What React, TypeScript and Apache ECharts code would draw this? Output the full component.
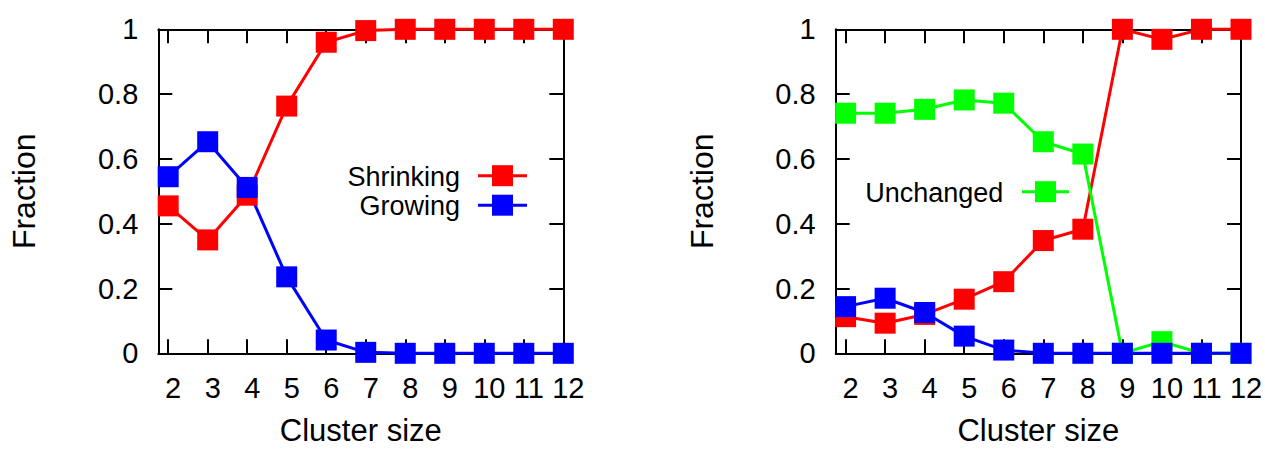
import React, { useEffect, useRef } from "react";
import * as echarts from "echarts";

const clusterSizes = [2, 3, 4, 5, 6, 7, 8, 9, 10, 11, 12];
const leftShrinking = [0.455, 0.35, 0.488, 0.763, 0.96, 0.996, 1, 1, 1, 1, 1];
const leftGrowing = [0.545, 0.653, 0.512, 0.236, 0.041, 0.003, 0, 0, 0, 0, 0];
const rightShrinking = [0.113, 0.093, 0.12, 0.167, 0.221, 0.348, 0.383, 1, 0.969, 1, 1];
const rightUnchanged = [0.741, 0.741, 0.753, 0.782, 0.772, 0.653, 0.615, 0, 0.036, 0, 0];
const rightGrowing = [0.144, 0.17, 0.126, 0.053, 0.01, 0, 0, 0, 0, 0, 0];
const yTicks = [0, 0.2, 0.4, 0.6, 0.8, 1];

const FONT = "'Liberation Sans', Arial, Helvetica, sans-serif";
const RED = "#ff0000";
const BLUE = "#0000ff";
const GREEN = "#00ff00";

const pairs = (vals: number[]) => clusterSizes.map((x, i) => [x, vals[i]]);

function xAxes(gridIndex: number) {
  const base = {
    gridIndex,
    type: "value",
    min: 1.75,
    max: 12,
    axisLine: { show: true, onZero: false, lineStyle: { color: "#000", width: 2 } },
    axisTick: {
      show: true,
      inside: true,
      length: 14,
      customValues: clusterSizes,
      lineStyle: { color: "#000", width: 2 },
    },
    splitLine: { show: false },
  };
  return [
    {
      ...base,
      position: "bottom",
      name: "Cluster size",
      nameLocation: "middle",
      nameGap: 62,
      nameTextStyle: { fontFamily: FONT, fontSize: 31, lineHeight: 31, color: "#000" },
      axisLabel: {
        show: true,
        customValues: clusterSizes,
        fontFamily: FONT,
        fontSize: 29,
        color: "#000",
        margin: 20,
        padding: [0, 0, 0, 10],
      },
    },
    { ...base, position: "top", axisLabel: { show: false } },
  ];
}

function yAxes(gridIndex: number) {
  const base = {
    gridIndex,
    type: "value",
    min: 0,
    max: 1,
    interval: 0.2,
    axisLine: { show: true, onZero: false, lineStyle: { color: "#000", width: 2 } },
    axisTick: { show: true, inside: true, length: 14, lineStyle: { color: "#000", width: 2 } },
    splitLine: { show: false },
  };
  return [
    {
      ...base,
      position: "left",
      name: "Fraction",
      nameLocation: "middle",
      nameGap: 118,
      nameTextStyle: { fontFamily: FONT, fontSize: 32, color: "#000" },
      axisLabel: {
        show: true,
        fontFamily: FONT,
        fontSize: 29,
        color: "#000",
        margin: 20,
        customValues: yTicks,
      },
    },
    { ...base, position: "right", axisLabel: { show: false } },
  ];
}

function lineSeries(name: string, vals: number[], color: string, axisIdx: number) {
  return {
    type: "line",
    name,
    data: pairs(vals),
    xAxisIndex: axisIdx,
    yAxisIndex: axisIdx,
    symbol: "rect",
    symbolSize: 21,
    showAllSymbol: true,
    clip: false,
    lineStyle: { color, width: 3 },
    itemStyle: { color, borderWidth: 0 },
  };
}

function legendEntry(label: string, color: string, textRight: number, y: number, lineX1: number, lineX2: number) {
  const cx = (lineX1 + lineX2) / 2;
  return [
    {
      type: "text",
      x: textRight,
      y: y + 1,
      style: {
        text: label,
        fontFamily: FONT,
        fontSize: 27,
        fill: "#000",
        textAlign: "right",
        textVerticalAlign: "middle",
      },
    },
    {
      type: "line",
      shape: { x1: lineX1, y1: y, x2: lineX2, y2: y },
      style: { stroke: color, lineWidth: 3 },
    },
    {
      type: "rect",
      shape: { x: cx - 10.5, y: y - 10.5, width: 21, height: 21 },
      style: { fill: color },
    },
  ];
}

export default function App() {
  const ref = useRef<HTMLDivElement>(null);
  useEffect(() => {
    document.body.style.margin = "0";
    if (!ref.current) return;
    const chart = echarts.init(ref.current, null, { renderer: "svg" });
    chart.setOption({
      animation: false,
      backgroundColor: "#fff",
      grid: [
        { left: 158.3, top: 29.3, width: 405, height: 324, outerBoundsMode: "none", containLabel: false },
        { left: 835.7, top: 29.3, width: 405.3, height: 324, outerBoundsMode: "none", containLabel: false },
      ],
      xAxis: [...xAxes(0), ...xAxes(1)],
      yAxis: [...yAxes(0), ...yAxes(1)],
      series: [
        lineSeries("Shrinking", leftShrinking, RED, 0),
        lineSeries("Growing", leftGrowing, BLUE, 0),
        lineSeries("Shrinking", rightShrinking, RED, 2),
        lineSeries("Unchanged", rightUnchanged, GREEN, 2),
        lineSeries("Growing", rightGrowing, BLUE, 2),
      ],
      graphic: [
        ...legendEntry("Shrinking", RED, 460, 175.7, 478, 527),
        ...legendEntry("Growing", BLUE, 460, 205.2, 478, 527),
        ...legendEntry("Unchanged", GREEN, 1003.3, 191.7, 1022, 1069),
      ],
    });
    return () => chart.dispose();
  }, []);
  return <div ref={ref} style={{ width: 1265, height: 449 }} />;
}
